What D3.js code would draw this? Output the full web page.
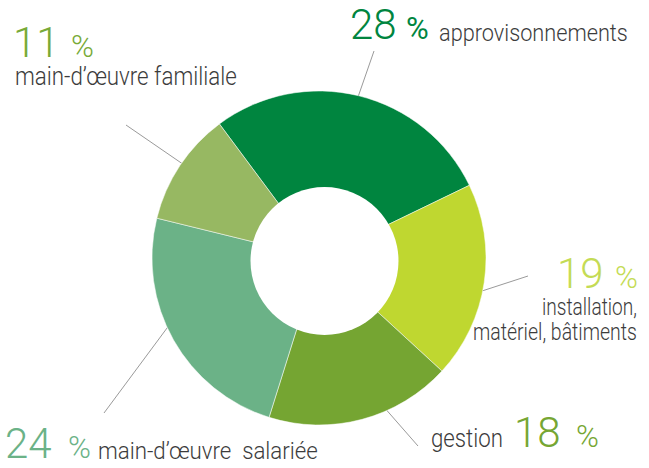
<!DOCTYPE html>
<html>
<head>
<meta charset="utf-8">
<script src="https://cdn.jsdelivr.net/npm/d3@7"></script>
<style>
  body { margin: 0; background: #fff; }
  svg { display: block; }
  text { font-family: Roboto, "Open Sans", sans-serif; font-weight: 300; }
</style>
</head>
<body>
<svg id="chart"></svg>
<script>
// data
const categories = ["approvisonnements", "installation,\nmatériel, bâtiments", "gestion", "main-d’œuvre\u00a0 salariée", "main-d’œuvre familiale"];
const values = [28, 19, 18, 24, 11];
const palette = ["#00853f", "#bfd730", "#75a532", "#6bb287", "#97b862"];
const numberColors = ["#00853f", "#c4db55", "#76a633", "#6bb287", "#78aa38"];

const width = 649, height = 468;
const cx = 319, cy = 258;
const outerR = 167;
const hole = { x: 324.5, y: 261, r: 74 };
const startDeg = -36.6;

// where each label sits (start x / baseline y); "end" labels give their right edge
const layout = [
  { num: [350, 39], pct: [406, 39], pctBold: true, lab: [439, 41], anchor: "start", fs: 24, tl: [189], leadAngle: 13.6, leadEnd: [374, 51] },
  { num: [557, 288], pct: [615, 288], lab: [637, 315], anchor: "end", fs: 23, tl: [95, 164], lh: 25, leadAngle: 101.7, leadEnd: [528, 276] },
  { num: [514, 447], pct: [576, 447], lab: [431, 447], anchor: "start", fs: 25, tl: [72], leadAngle: 156.2, leadEnd: [418, 446] },
  { num: [5, 458], pct: [68, 458], lab: [98, 459], anchor: "start", fs: 23, tl: [220], leadAngle: 245.7, leadEnd: [104, 413] },
  { num: [13, 57], pct: [71, 57], lab: [15, 85], anchor: "start", fs: 25, tl: [222], leadAngle: 304.6, leadEnd: [126, 125] }
];

const svg = d3.select("#chart").attr("width", width).attr("height", height);
svg.append("rect").attr("width", width).attr("height", height).attr("fill", "#fff");

const color = d3.scaleOrdinal(categories, palette);
const rad = d => d * Math.PI / 180;

const pie = d3.pie().sort(null).value(d => d.value)
  .startAngle(rad(startDeg)).endAngle(rad(startDeg) + 2 * Math.PI);
const arc = d3.arc().innerRadius(0).outerRadius(outerR);

const slices = pie(categories.map((c, i) => ({ cat: c, value: values[i] })));

// leader lines first so the pie covers their ends
svg.append("g").selectAll("line").data(slices).join("line")
  .attr("x1", (d, i) => cx + d3.pointRadial(rad(layout[i].leadAngle), outerR - 2)[0])
  .attr("y1", (d, i) => cy + d3.pointRadial(rad(layout[i].leadAngle), outerR - 2)[1])
  .attr("x2", (d, i) => layout[i].leadEnd[0])
  .attr("y2", (d, i) => layout[i].leadEnd[1])
  .attr("stroke", "#9a9a9a")
  .attr("stroke-width", 1);

const g = svg.append("g").attr("transform", `translate(${cx},${cy})`);
g.selectAll("path").data(slices).join("path")
  .attr("d", arc)
  .attr("fill", d => color(d.data.cat))
  .attr("stroke", "#fff")
  .attr("stroke-width", 0.5);

// the hole sits a little off the outer centre in the original
svg.append("circle")
  .attr("cx", hole.x).attr("cy", hole.y).attr("r", hole.r)
  .attr("fill", "#fff");

const labels = svg.append("g");
slices.forEach((d, i) => {
  const L = layout[i];
  labels.append("text")
    .attr("x", L.num[0]).attr("y", L.num[1])
    .attr("font-size", 42)
    .attr("fill", numberColors[i])
    .text(d.data.value);
  labels.append("text")
    .attr("x", L.pct[0]).attr("y", L.pct[1])
    .attr("font-size", 31)
    .style("font-weight", L.pctBold ? 400 : 300)
    .attr("fill", numberColors[i])
    .text("%");
  d.data.cat.split("\n").forEach((line, j) => {
    // the original face is narrow: squeeze each line to its measured width
    const t = labels.append("text")
      .attr("font-size", L.fs)
      .attr("fill", "#3c3c3c")
      .text(line);
    const sx = L.tl[j] / t.node().getComputedTextLength();
    const x = L.anchor === "end" ? L.lab[0] - L.tl[j] : L.lab[0];
    t.attr("transform", `translate(${x},${L.lab[1] + j * (L.lh || 0)}) scale(${sx},1)`);
  });
});
</script>
</body>
</html>
